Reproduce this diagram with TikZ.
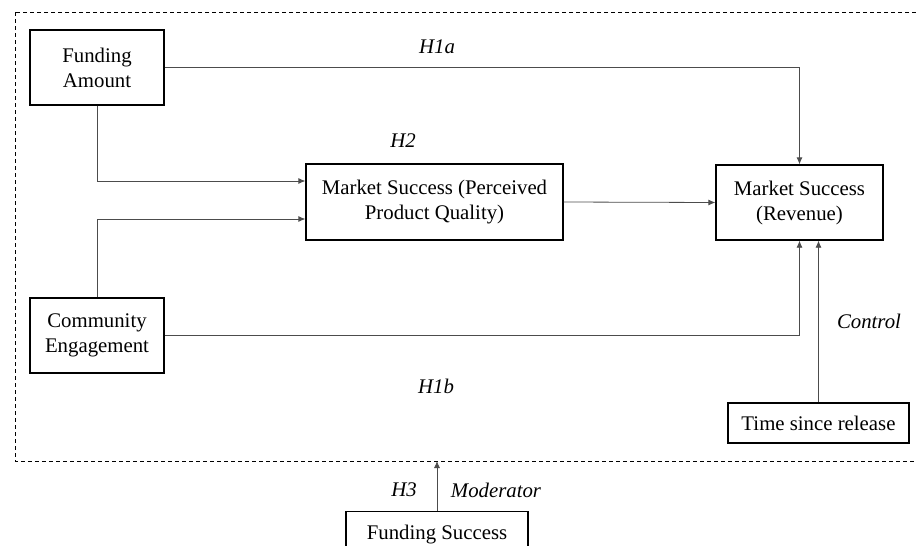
\documentclass[tikz,border=0pt]{standalone}
\usepackage{fontspec}
\setmainfont{Liberation Serif}
\usepackage{tikz}
\usetikzlibrary{arrows.meta,positioning}

\newcommand{\diagfont}{\fontsize{20.8}{25}\selectfont}
\tikzset{
	box/.style={shape=rectangle,draw,line width=1.3pt,align=center,inner sep=2pt},
	link/.style={-{Latex[length=7pt,width=6pt]},line width=0.8pt,draw=black!70},
	hyp/.style={font=\diagfont\itshape}
}

\begin{document}
\begin{tikzpicture}[x=1pt,y=-1pt,font=\diagfont]
	\useasboundingbox (0,0) rectangle (916,546);
	\clip (0,0) rectangle (916,546);
	\draw[dash pattern=on 4pt off 3pt,line width=1pt] (15,12) rectangle (930,461);
	\coordinate (framebot) at (437,461);
	\path (97,67.5) node (fa) [box,minimum width=134pt,minimum height=75pt] {Funding\\Amount}
		  (97,335.5) node (ce) [box,minimum width=134pt,minimum height=75pt] {Community\\Engagement}
		  (434.5,202) node (mp) [box,minimum width=257pt,minimum height=76pt] {Market Success (Perceived\\Product Quality)}
		  (799.5,202.5) node (mr) [box,minimum width=167pt,minimum height=75pt] {Market Success\\(Revenue)}
		  (818.5,423) node (ts) [box,minimum width=181pt,minimum height=40pt] {Time since release}
		  (437,534) node (fs) [box,minimum width=182pt,minimum height=46pt,anchor=north,yshift=23pt] {Funding Success};
	\path (437,47) node (h1a) [hyp] {H1a}
		  (403,141) node (h2) [hyp] {H2}
		  (436,386) node (h1b) [hyp] {H1b}
		  (404,490) node (h3) [hyp] {H3}
		  (496,490) node (mod) [hyp] {Moderator}
		  (869,321) node (ctl) [hyp] {Control};
	\draw[link] (fa.east) -| (mr.north);
	\draw[link] (fa.south) |- ([yshift=21pt]mp.west);
	\draw[link] (ce.north) |- ([yshift=-17pt]mp.west);
	\draw[link] (mp.east) -- (mr.west);
	\draw[link] (ce.east) -| (mr.south);
	\draw[link] (ts.north) -- (ts.north |- mr.south);
	\draw[link] (fs.north) -- (framebot);
\end{tikzpicture}
\end{document}
